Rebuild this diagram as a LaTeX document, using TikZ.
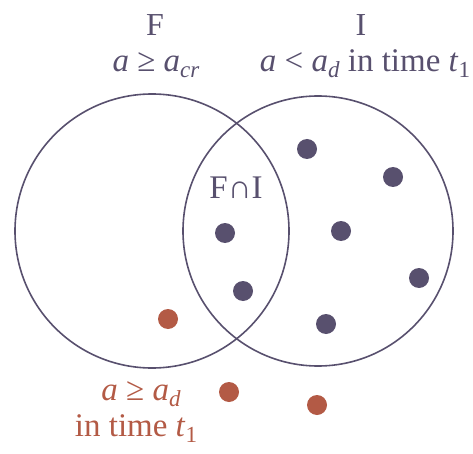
\documentclass[tikz,border=0pt]{standalone}
\usepackage{fontspec}
\setmainfont{Liberation Serif}
\definecolor{setgray}{HTML}{58506E}
\definecolor{rust}{HTML}{B35A45}
% lowered subscript, larger than \textsubscript
\newcommand{\lowsub}[1]{\raisebox{-6pt}{\fontsize{23}{25}\selectfont #1}}
\tikzset{
  setring/.style={circle, draw=setgray, line width=1.6pt, inner sep=0pt},
  pt/.style={circle, fill=setgray, inner sep=0pt, minimum size=20pt},
  outpt/.style={pt, fill=rust},
  lbl/.style={text=setgray, font=\fontsize{33}{36}\selectfont, inner sep=0pt},
  setname/.style={lbl, font=\fontsize{32}{34}\selectfont}
}
\begin{document}
\begin{tikzpicture}[x=1pt, y=-1pt]
  \useasboundingbox (0,0) rectangle (473,454);

  % The two sets
  \node[setring, minimum size=274pt] (F) at (152,231) {};
  \node[setring, minimum size=270pt] (I) at (318,231) {};

  % Set labels
  \node[setname, anchor=base] (Fname) at (155,36) {F};
  \node[lbl, anchor=base] (Fcond) at (156,72) {\textit{a} ≥ \textit{a}\lowsub{\textit{cr}}};
  \node[setname, anchor=base] (Iname) at (361,36) {I};
  \node[lbl, anchor=base] (Icond) at (365,72) {\textit{a} < \textit{a}\lowsub{\textit{d}} in time \textit{t}\lowsub{1}};
  \node[lbl, anchor=base] (FI) at (236,199) {F∩I};

  % Points inside
  \node[pt] (p1) at (307,149) {};
  \node[pt] (p2) at (393,177) {};
  \node[pt] (p3) at (225,233) {};
  \node[pt] (p4) at (341,231) {};
  \node[pt] (p5) at (419,278) {};
  \node[pt] (p6) at (243,291) {};
  \node[pt] (p7) at (326,324) {};

  % Points failing in time
  \node[outpt] (q1) at (168,319) {};
  \node[outpt] (q2) at (229,392) {};
  \node[outpt] (q3) at (317,405) {};

  \node[lbl, text=rust, anchor=base] (Dcond) at (141,400) {\textit{a} ≥ \textit{a}\lowsub{\textit{d}}};
  \node[lbl, text=rust, anchor=base] (Dtime) at (136,436) {in time \textit{t}\lowsub{1}};
\end{tikzpicture}
\end{document}
